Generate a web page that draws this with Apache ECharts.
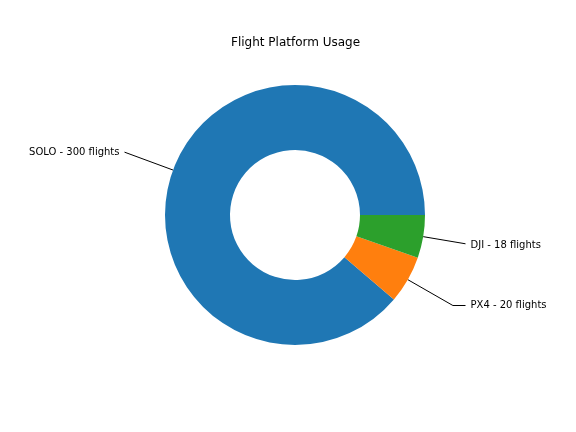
<!DOCTYPE html>
<html>
<head>
<meta charset="utf-8">
<script src="https://cdn.jsdelivr.net/npm/echarts@6/dist/echarts.min.js"></script>
<style>html,body{margin:0;padding:0;background:#fff;}#c{width:576px;height:432px;}</style>
</head>
<body>
<div id="c"></div>
<script>
const categories = ['SOLO', 'PX4', 'DJI'];
const flights = [300, 20, 18];
const colors = ['#1f77b4', '#ff7f0e', '#2ca02c'];
const titleText = 'Flight Platform Usage';

const CX = 295, CY = 215, R = 130, R0 = 65;
const FONT = 'DejaVu Sans';

const chart = echarts.init(document.getElementById('c'), null, {renderer: 'canvas'});
const total = flights.reduce((a, b) => a + b, 0);

function labelLayout(params) {
  let p0 = params.labelLinePoints && params.labelLinePoints[0];
  let dx, dy;
  if (p0) {
    dx = (p0[0] - CX) / R; dy = (p0[1] - CY) / R;
  } else {
    let acc = 0;
    for (let i = 0; i < params.dataIndex; i++) acc += flights[i];
    const mid = (acc + flights[params.dataIndex] / 2) / total * 2 * Math.PI;
    dx = Math.cos(mid); dy = -Math.sin(mid);
    p0 = [CX + dx * R, CY + dy * R];
  }
  const sign = dx >= 0 ? 1 : -1;
  const tx = CX + sign * 1.35 * R;
  const ty = CY + 1.4 * dy * R;
  const kx = CX + 1.4 * dx * R;
  const ex = tx - sign * 5;
  let pts;
  if ((kx - ex) * sign > 0) {
    const t = (ex - CX) / (dx * R);
    const pe = [ex, CY + t * dy * R];
    pts = [p0, pe, pe];
  } else {
    pts = [p0, [kx, ty], [ex, ty]];
  }
  return {x: tx, y: ty, align: sign > 0 ? 'left' : 'right', verticalAlign: 'middle', labelLinePoints: pts};
}

chart.setOption({
  animation: false,
  backgroundColor: '#fff',
  title: {
    text: titleText, left: 231, top: 37, padding: 0,
    textStyle: {fontFamily: FONT, fontSize: 12, fontWeight: 'normal', color: '#000'}
  },
  series: [{
    type: 'pie',
    center: [CX, CY],
    radius: [R0, R],
    startAngle: 0,
    clockwise: false,
    avoidLabelOverlap: false,
    data: categories.map((c, i) => ({
      name: c, value: flights[i],
      itemStyle: {color: colors[i]}
    })),
    label: {
      show: true, position: 'outside',
      formatter: p => p.name + ' - ' + p.value + ' flights',
      fontFamily: FONT, fontSize: 10, color: '#000'
    },
    labelLine: {show: true, length: 20, length2: 10, lineStyle: {color: '#000', width: 1}},
    labelLayout: labelLayout,
    emphasis: {disabled: true}
  }]
});
</script>
</body>
</html>
